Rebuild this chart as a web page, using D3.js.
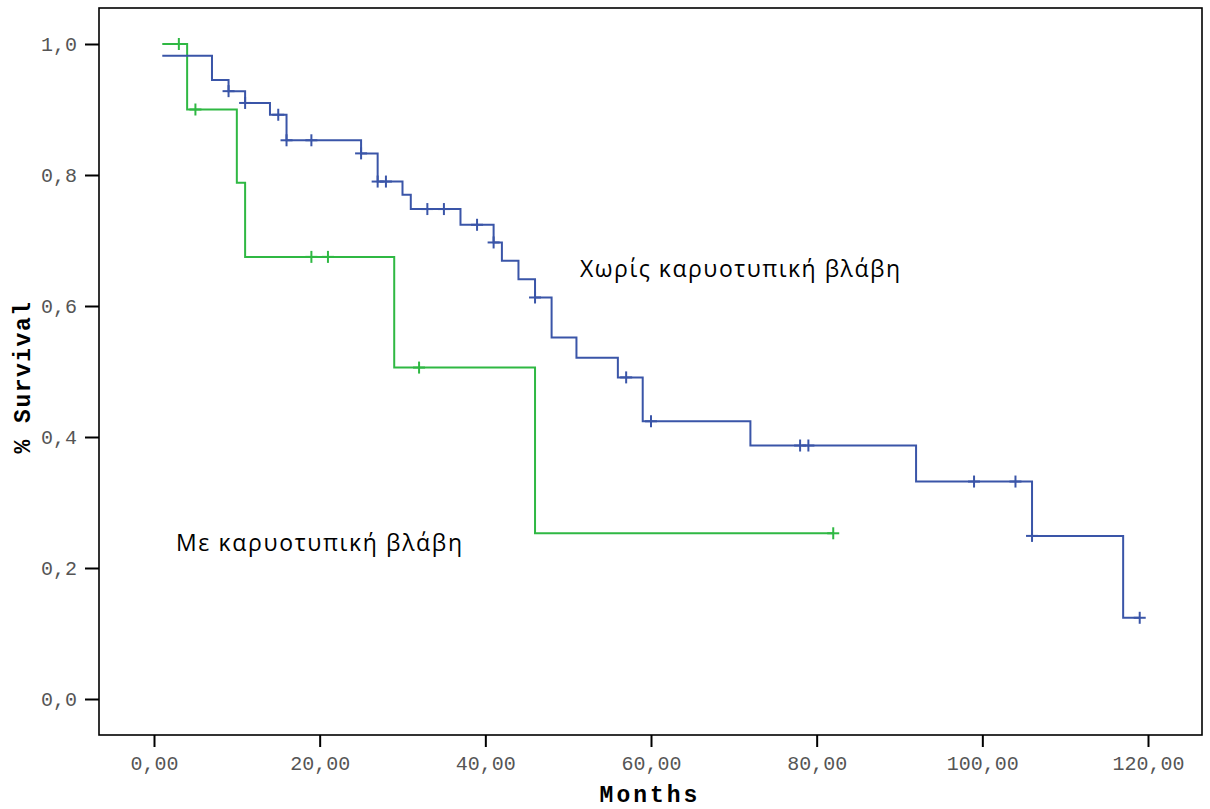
<!DOCTYPE html>
<html><head><meta charset="utf-8">
<script src="https://cdn.jsdelivr.net/npm/d3@7"></script>
<style>body{margin:0;background:#fff}svg{display:block}</style>
</head><body>
<svg id="chart" width="1210" height="809"></svg>
<script>
// Group without karyotypic damage (blue)
const blueTimes = [1, 7, 9, 11, 14, 16, 25, 27, 30, 31, 37, 41, 42, 44, 46, 48, 51, 56, 59, 72, 92, 106, 117];
const blueSurv  = [0.982, 0.945, 0.928, 0.910, 0.892, 0.853, 0.833, 0.790, 0.770, 0.748, 0.724, 0.697, 0.669, 0.641, 0.613, 0.552, 0.521, 0.491, 0.424, 0.387, 0.332, 0.249, 0.124];
const blueEnd = 119;
const blueCensored = [9, 11, 15, 16, 19, 25, 27, 28, 33, 35, 39, 41, 46, 57, 60, 78, 79, 99, 104, 106, 119];

// Group with karyotypic damage (green)
const greenTimes = [1, 4, 10, 11, 29, 46];
const greenSurv  = [1.0, 0.900, 0.788, 0.675, 0.506, 0.253];
const greenEnd = 82;
const greenCensored = [3, 5, 19, 21, 32, 82];

const xTicks = [0, 20, 40, 60, 80, 100, 120];
const yTicks = [0, 0.2, 0.4, 0.6, 0.8, 1.0];
const labelBlue = "Χωρίς καρυοτυπική βλάβη";
const labelGreen = "Με καρυοτυπική βλάβη";
const xTitle = "Months";
const yTitle = "% Survival";

const svg = d3.select("#chart");
const frame = {left: 99, top: 8, right: 1202, bottom: 735};
const x = d3.scaleLinear().domain([0, 120]).range([154, 1148]);
const y = d3.scaleLinear().domain([0, 1]).range([699, 44]);

const fmtX = d => d3.format(".2f")(d).replace(".", ",");
const fmtY = d => d3.format(".1f")(d).replace(".", ",");
const mono = "'Liberation Mono', 'Courier New', monospace";

// frame
svg.append("rect").attr("x", frame.left).attr("y", frame.top)
  .attr("width", frame.right - frame.left).attr("height", frame.bottom - frame.top)
  .attr("fill", "none").attr("stroke", "#000").attr("stroke-width", 1.6);

// x axis
const xAxis = d3.axisBottom(x).tickValues(xTicks).tickFormat(fmtX).tickSize(12).tickSizeOuter(0);
const gx = svg.append("g").attr("transform", `translate(0,${frame.bottom})`).call(xAxis);
gx.select(".domain").remove();
gx.selectAll(".tick line").attr("stroke", "#000").attr("stroke-width", 2);
gx.selectAll(".tick text").attr("y", 21).attr("dy", "0.71em")
  .style("font-family", mono).style("font-size", "20px").attr("fill", "#555");

// y axis
const yAxis = d3.axisLeft(y).tickValues(yTicks).tickFormat(fmtY).tickSize(14).tickSizeOuter(0);
const gy = svg.append("g").attr("transform", `translate(${frame.left},0)`).call(yAxis);
gy.select(".domain").remove();
gy.selectAll(".tick line").attr("stroke", "#000").attr("stroke-width", 2);
gy.selectAll(".tick text").attr("x", -22)
  .style("font-family", mono).style("font-size", "20px").attr("fill", "#555");

// titles
svg.append("text").attr("x", 650).attr("y", 802).attr("text-anchor", "middle")
  .style("font-family", mono).style("font-size", "23px")
  .style("font-weight", "bold").style("letter-spacing", "3px").text(xTitle);
svg.append("text").attr("transform", "translate(30,377) rotate(-90)").attr("text-anchor", "middle")
  .style("font-family", mono).style("font-size", "23px")
  .style("font-weight", "bold").style("letter-spacing", "1.5px").text(yTitle);

// step curves
function stepPoints(times, surv, end) {
  const pts = times.map((t, i) => [t, surv[i]]);
  pts.push([end, surv[surv.length - 1]]);
  return pts;
}
function survAt(times, surv, t) {
  let s = surv[0];
  times.forEach((tt, i) => { if (tt <= t) s = surv[i]; });
  return s;
}
const line = d3.line().x(d => x(d[0])).y(d => y(d[1])).curve(d3.curveStepAfter);

function drawGroup(times, surv, end, censored, color) {
  svg.append("path").datum(stepPoints(times, surv, end))
    .attr("d", line).attr("fill", "none").attr("stroke", color).attr("stroke-width", 2);
  const g = svg.append("g");
  censored.forEach(t => {
    const cx = x(t), cy = y(survAt(times, surv, t));
    g.append("line").attr("x1", cx).attr("x2", cx).attr("y1", cy - 6).attr("y2", cy + 6)
      .attr("stroke", color).attr("stroke-width", 2);
    g.append("line").attr("x1", cx - 6).attr("x2", cx + 6).attr("y1", cy).attr("y2", cy)
      .attr("stroke", color).attr("stroke-width", 2);
  });
}
drawGroup(greenTimes, greenSurv, greenEnd, greenCensored, "#2fb843");
drawGroup(blueTimes, blueSurv, blueEnd, blueCensored, "#3a55a8");

// labels
svg.append("text").attr("x", 580).attr("y", 277)
  .style("font-family", "'Open Sans', 'Noto Sans', sans-serif").style("font-size", "23px")
  .attr("fill", "#000").attr("textLength", 320).text(labelBlue);
svg.append("text").attr("x", 176).attr("y", 551)
  .style("font-family", "'Open Sans', 'Noto Sans', sans-serif").style("font-size", "23px")
  .attr("fill", "#000").attr("textLength", 286).text(labelGreen);
</script>
</body></html>
